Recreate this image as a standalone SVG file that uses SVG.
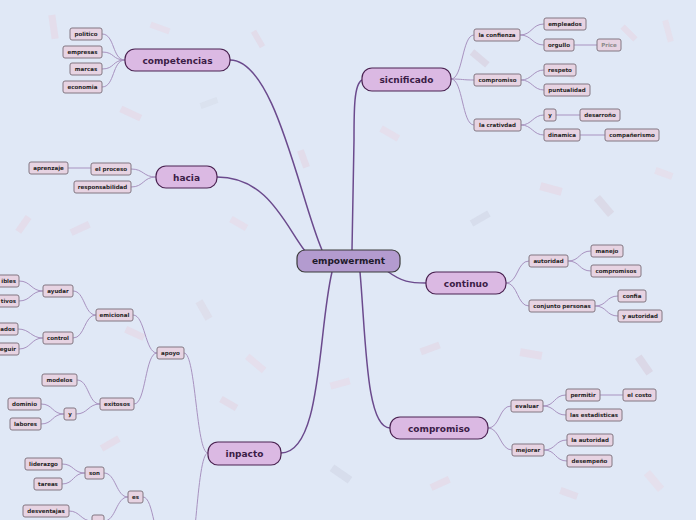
<svg xmlns="http://www.w3.org/2000/svg" width="696" height="520" viewBox="0 0 696 520">
<defs>
<style>
.m{fill:#dbb9e3;stroke:#4b2352;stroke-width:1.2}
.c{fill:#b39bcf;stroke:#3a3a3a;stroke-width:1.2}
.s{fill:#e7d3e2;stroke:#827782;stroke-width:1}
.tm{font-family:"DejaVu Sans",sans-serif;font-weight:bold;font-size:9px;fill:#3b1d47;text-anchor:middle}
.tc{font-family:"DejaVu Sans",sans-serif;font-weight:bold;font-size:9px;fill:#1e1a2a;text-anchor:middle}
.ts{font-family:"DejaVu Sans",sans-serif;font-weight:bold;font-size:5.5px;fill:#1f1f1f;text-anchor:middle}
.te{text-anchor:end}
.lm{fill:none;stroke:#6b4a8d;stroke-width:1.5}
.ls{fill:none;stroke:#a892c0;stroke-width:1}
.cf rect{opacity:0.22}
</style>
</defs>
<rect width="696" height="520" fill="#e0e8f6"/>
<g class="cf">
<rect x="50" y="15" width="7" height="24" fill="#f2b8c6" transform="rotate(-8 53 27)"/>
<rect x="150" y="25" width="20" height="6" fill="#f4c0cc" transform="rotate(20 160 28)"/>
<rect x="255" y="30" width="6" height="18" fill="#e9b0c0" transform="rotate(-30 258 39)"/>
<rect x="470" y="55" width="20" height="7" fill="#c9a0b0" transform="rotate(40 480 58)"/>
<rect x="620" y="30" width="18" height="6" fill="#f2b8c6" transform="rotate(45 629 33)"/>
<rect x="665" y="20" width="6" height="22" fill="#f4c6cf" transform="rotate(-15 668 31)"/>
<rect x="120" y="110" width="22" height="7" fill="#f2b8c6" transform="rotate(25 131 113)"/>
<rect x="200" y="100" width="18" height="6" fill="#c8ccd8" transform="rotate(-20 209 103)"/>
<rect x="560" y="70" width="16" height="6" fill="#e8b4c4" transform="rotate(30 568 73)"/>
<rect x="20" y="215" width="7" height="18" fill="#f2b8c6" transform="rotate(35 23 224)"/>
<rect x="70" y="225" width="20" height="7" fill="#e7b8c8" transform="rotate(-25 80 228)"/>
<rect x="230" y="220" width="18" height="7" fill="#f4c0cc" transform="rotate(30 239 223)"/>
<rect x="470" y="215" width="20" height="7" fill="#b8b8c8" transform="rotate(-30 480 218)"/>
<rect x="540" y="185" width="22" height="8" fill="#f2b8c6" transform="rotate(15 551 189)"/>
<rect x="600" y="195" width="8" height="22" fill="#c8a8b8" transform="rotate(-40 604 206)"/>
<rect x="655" y="170" width="18" height="7" fill="#f4c6cf" transform="rotate(20 664 173)"/>
<rect x="125" y="330" width="20" height="7" fill="#f2b8c6" transform="rotate(25 135 333)"/>
<rect x="200" y="300" width="8" height="20" fill="#d6c0c8" transform="rotate(-30 204 310)"/>
<rect x="245" y="360" width="22" height="7" fill="#f4c0cc" transform="rotate(40 256 363)"/>
<rect x="420" y="345" width="20" height="7" fill="#e8b4c4" transform="rotate(-20 430 348)"/>
<rect x="520" y="350" width="22" height="8" fill="#f2b8c6" transform="rotate(10 531 354)"/>
<rect x="640" y="355" width="8" height="20" fill="#c8a0b0" transform="rotate(-35 644 365)"/>
<rect x="220" y="400" width="18" height="7" fill="#e9b0c0" transform="rotate(30 229 403)"/>
<rect x="330" y="380" width="20" height="7" fill="#f4c0cc" transform="rotate(-15 340 383)"/>
<rect x="330" y="470" width="22" height="8" fill="#b8b8c8" transform="rotate(35 341 474)"/>
<rect x="430" y="480" width="20" height="7" fill="#f2b8c6" transform="rotate(-25 440 483)"/>
<rect x="560" y="490" width="18" height="7" fill="#e8b4c4" transform="rotate(20 569 493)"/>
<rect x="650" y="470" width="8" height="22" fill="#f4c6cf" transform="rotate(-40 654 481)"/>
<rect x="100" y="440" width="20" height="7" fill="#f2b8c6" transform="rotate(-30 110 443)"/>
<rect x="380" y="130" width="20" height="7" fill="#f4c0cc" transform="rotate(30 390 133)"/>
<rect x="300" y="150" width="7" height="18" fill="#e9b0c0" transform="rotate(-20 303 159)"/>
<rect x="420" y="420" width="7" height="18" fill="#c8a0b0" transform="rotate(25 423 429)"/>
</g>
<g id="connectors">
<path class="lm" d="M230,60 C275,60 300,200 322,250"/>
<path class="lm" d="M217,177 C268,177 285,225 305,251"/>
<path class="lm" d="M362,80 C354,84 354,110 354,140 L352,250"/>
<path class="lm" d="M387,271 C402,282 410,283 426,283"/>
<path class="lm" d="M360,272 C366,340 366,428 390,428"/>
<path class="lm" d="M332,272 C318,330 322,453 281,453"/>
<path class="ls" d="M125,60 C112,60 115,34 102,34"/>
<path class="ls" d="M125,60 C112,60 115,52 102,52"/>
<path class="ls" d="M125,60 C112,60 115,69 102,69"/>
<path class="ls" d="M125,60 C112,60 115,87 102,87"/>
<path class="ls" d="M156,177 C143,177 144,169 131,169"/>
<path class="ls" d="M156,177 C143,177 144,187 131,187"/>
<path class="ls" d="M91,168 L68,168"/>
<path class="ls" d="M451,79 C463,79 462,35 474,35"/>
<path class="ls" d="M451,79 C463,79 462,80 474,80"/>
<path class="ls" d="M451,79 C463,79 462,125 474,125"/>
<path class="ls" d="M520,35 C532,35 532,24 544,24"/>
<path class="ls" d="M520,35 C532,35 532,45 544,45"/>
<path class="ls" d="M574,45 L597,45"/>
<path class="ls" d="M521,80 C532,80 533,70 544,70"/>
<path class="ls" d="M521,80 C532,80 533,90 544,90"/>
<path class="ls" d="M521,125 C532,125 533,115 544,115"/>
<path class="ls" d="M521,125 C532,125 533,135 544,135"/>
<path class="ls" d="M556,115 L580,115"/>
<path class="ls" d="M580,135 L605,135"/>
<path class="ls" d="M506,283 C518,283 517,261 529,261"/>
<path class="ls" d="M506,283 C518,283 517,306 529,306"/>
<path class="ls" d="M568,261 C580,261 579,251 591,251"/>
<path class="ls" d="M568,261 C580,261 579,271 591,271"/>
<path class="ls" d="M595,306 C607,306 606,296 618,296"/>
<path class="ls" d="M595,306 C607,306 606,316 618,316"/>
<path class="ls" d="M488,428 C500,428 499,406 511,406"/>
<path class="ls" d="M488,428 C500,428 500,450 512,450"/>
<path class="ls" d="M543,406 C555,406 554,395 566,395"/>
<path class="ls" d="M543,406 C555,406 554,415 566,415"/>
<path class="ls" d="M600,395 L623,395"/>
<path class="ls" d="M544,450 C556,450 555,440 567,440"/>
<path class="ls" d="M544,450 C556,450 555,461 567,461"/>
<path class="ls" d="M208,453 C196,453 196,353 184,353"/>
<path class="ls" d="M208,453 C196,453 196,580 184,580"/>
<path class="ls" d="M157,353 C145,353 145,315 133,315"/>
<path class="ls" d="M157,353 C145,353 146,404 134,404"/>
<path class="ls" d="M96,315 C84,315 85,291 73,291"/>
<path class="ls" d="M96,315 C84,315 85,338 73,338"/>
<path class="ls" d="M43,291 C31,291 31,281 19,281"/>
<path class="ls" d="M43,291 C31,291 31,301 19,301"/>
<path class="ls" d="M43,338 C31,338 30,329 18,329"/>
<path class="ls" d="M43,338 C31,338 31,349 19,349"/>
<path class="ls" d="M100,404 C88,404 89,380 77,380"/>
<path class="ls" d="M100,404 C88,404 88,414 76,414"/>
<path class="ls" d="M64,414 C52,414 53,404 41,404"/>
<path class="ls" d="M64,414 C52,414 53,424 41,424"/>
<path class="ls" d="M128,497 C116,497 116,473 104,473"/>
<path class="ls" d="M128,497 C116,497 116,521 104,521"/>
<path class="ls" d="M143,497 C154,497 154,545 165,545"/>
<path class="ls" d="M85,473 C73,473 74,464 62,464"/>
<path class="ls" d="M85,473 C73,473 74,484 62,484"/>
<path class="ls" d="M69,511 C80,511 81,521 92,521"/>
</g>
<g id="n-empowerment"><rect class="c" x="297" y="250" width="103" height="22" rx="8"/><text class="tc" x="348.5" y="264">empowerment</text></g>
<g id="n-competencias"><rect class="m" x="125" y="49" width="105" height="22" rx="10"/><text class="tm" x="177.5" y="63.5">competencias</text></g>
<g id="n-hacia"><rect class="m" x="156" y="166" width="61" height="22" rx="10"/><text class="tm" x="186.5" y="180.5">hacia</text></g>
<g id="n-sicnificado"><rect class="m" x="362" y="68" width="89" height="23" rx="10"/><text class="tm" x="406.5" y="83">sicnificado</text></g>
<g id="n-continuo"><rect class="m" x="426" y="272" width="80" height="22" rx="10"/><text class="tm" x="466" y="286.5">continuo</text></g>
<g id="n-compromiso"><rect class="m" x="390" y="417" width="98" height="22" rx="10"/><text class="tm" x="439" y="431.5">compromiso</text></g>
<g id="n-inpacto"><rect class="m" x="208" y="442" width="73" height="23" rx="10"/><text class="tm" x="244.5" y="457">inpacto</text></g>
<g id="n-politico"><rect class="s" x="70" y="28" width="32" height="12" rx="2"/><text class="ts" x="86" y="36">politico</text></g>
<g id="n-empresas"><rect class="s" x="63" y="46" width="39" height="12" rx="2"/><text class="ts" x="82.5" y="54">empresas</text></g>
<g id="n-marcas"><rect class="s" x="70" y="63" width="32" height="12" rx="2"/><text class="ts" x="86" y="71">marcas</text></g>
<g id="n-economia"><rect class="s" x="63" y="81" width="39" height="12" rx="2"/><text class="ts" x="82.5" y="89">economia</text></g>
<g id="n-el-proceso"><rect class="s" x="91" y="163" width="40" height="12" rx="2"/><text class="ts" x="111" y="171">el proceso</text></g>
<g id="n-aprenzaje"><rect class="s" x="29" y="162" width="39" height="12" rx="2"/><text class="ts" x="48.5" y="170">aprenzaje</text></g>
<g id="n-responsabilidad"><rect class="s" x="74" y="181" width="57" height="12" rx="2"/><text class="ts" x="102.5" y="189">responsabilidad</text></g>
<g id="n-la-confienza"><rect class="s" x="474" y="29" width="46" height="12" rx="2"/><text class="ts" x="497" y="37">la confienza</text></g>
<g id="n-empleados"><rect class="s" x="544" y="18" width="42" height="12" rx="2"/><text class="ts" x="565" y="26">empleados</text></g>
<g id="n-orgullo"><rect class="s" x="544" y="39" width="30" height="12" rx="2"/><text class="ts" x="559" y="47">orgullo</text></g>
<g id="n-price"><rect class="s" x="597" y="39" width="24" height="12" rx="2"/><text class="ts" x="609" y="47" style="fill:#8a8a8a">Price</text></g>
<g id="n-compromiso-sub"><rect class="s" x="474" y="74" width="47" height="12" rx="2"/><text class="ts" x="497.5" y="82">compromiso</text></g>
<g id="n-respeto"><rect class="s" x="544" y="64" width="32" height="12" rx="2"/><text class="ts" x="560" y="72">respeto</text></g>
<g id="n-puntualidad"><rect class="s" x="544" y="84" width="46" height="12" rx="2"/><text class="ts" x="567" y="92">puntualidad</text></g>
<g id="n-la-crativdad"><rect class="s" x="474" y="119" width="47" height="12" rx="2"/><text class="ts" x="497.5" y="127">la crativdad</text></g>
<g id="n-y1"><rect class="s" x="544" y="109" width="12" height="12" rx="2"/><text class="ts" x="550" y="117">y</text></g>
<g id="n-desarrono"><rect class="s" x="580" y="109" width="40" height="12" rx="2"/><text class="ts" x="600" y="117">desarroño</text></g>
<g id="n-dinamica"><rect class="s" x="544" y="129" width="36" height="12" rx="2"/><text class="ts" x="562" y="137">dinamica</text></g>
<g id="n-companerismo"><rect class="s" x="605" y="129" width="54" height="12" rx="2"/><text class="ts" x="632" y="137">compañerismo</text></g>
<g id="n-autoridad"><rect class="s" x="529" y="255" width="39" height="12" rx="2"/><text class="ts" x="548.5" y="263">autoridad</text></g>
<g id="n-manejo"><rect class="s" x="591" y="245" width="32" height="12" rx="2"/><text class="ts" x="607" y="253">manejo</text></g>
<g id="n-compromisos"><rect class="s" x="591" y="265" width="50" height="12" rx="2"/><text class="ts" x="616" y="273">compromisos</text></g>
<g id="n-conjunto-personas"><rect class="s" x="529" y="300" width="66" height="12" rx="2"/><text class="ts" x="562" y="308">conjunto personas</text></g>
<g id="n-confia"><rect class="s" x="618" y="290" width="28" height="12" rx="2"/><text class="ts" x="632" y="298">confia</text></g>
<g id="n-y-autoridad"><rect class="s" x="618" y="310" width="44" height="12" rx="2"/><text class="ts" x="640" y="318">y autoridad</text></g>
<g id="n-evaluar"><rect class="s" x="511" y="400" width="32" height="12" rx="2"/><text class="ts" x="527" y="408">evaluar</text></g>
<g id="n-permitir"><rect class="s" x="566" y="389" width="34" height="12" rx="2"/><text class="ts" x="583" y="397">permitir</text></g>
<g id="n-el-costo"><rect class="s" x="623" y="389" width="33" height="12" rx="2"/><text class="ts" x="639.5" y="397">el costo</text></g>
<g id="n-las-estadisticas"><rect class="s" x="566" y="409" width="56" height="12" rx="2"/><text class="ts" x="594" y="417">las estadisticas</text></g>
<g id="n-mejorar"><rect class="s" x="512" y="444" width="32" height="12" rx="2"/><text class="ts" x="528" y="452">mejorar</text></g>
<g id="n-la-autoridad"><rect class="s" x="567" y="434" width="46" height="12" rx="2"/><text class="ts" x="590" y="442">la autoridad</text></g>
<g id="n-desempeno"><rect class="s" x="567" y="455" width="45" height="12" rx="2"/><text class="ts" x="589.5" y="463">desempeño</text></g>
<g id="n-apoyo"><rect class="s" x="157" y="347" width="27" height="12" rx="2"/><text class="ts" x="170.5" y="355">apoyo</text></g>
<g id="n-emicional"><rect class="s" x="96" y="309" width="37" height="12" rx="2"/><text class="ts" x="114.5" y="317">emicional</text></g>
<g id="n-ayudar"><rect class="s" x="43" y="285" width="30" height="12" rx="2"/><text class="ts" x="58" y="293">ayudar</text></g>
<g id="n-ibles"><rect class="s" x="-25" y="275" width="44" height="12" rx="2"/><text class="ts te" x="16" y="283">ibles</text></g>
<g id="n-tivos"><rect class="s" x="-25" y="295" width="44" height="12" rx="2"/><text class="ts te" x="16" y="303">tivos</text></g>
<g id="n-control"><rect class="s" x="43" y="332" width="30" height="12" rx="2"/><text class="ts" x="58" y="340">control</text></g>
<g id="n-ados"><rect class="s" x="-25" y="323" width="43" height="12" rx="2"/><text class="ts te" x="15" y="331">ados</text></g>
<g id="n-eguir"><rect class="s" x="-25" y="343" width="44" height="12" rx="2"/><text class="ts te" x="16" y="351">eguir</text></g>
<g id="n-exitosos"><rect class="s" x="100" y="398" width="34" height="12" rx="2"/><text class="ts" x="117" y="406">exitosos</text></g>
<g id="n-modelos"><rect class="s" x="42" y="374" width="35" height="12" rx="2"/><text class="ts" x="59.5" y="382">modelos</text></g>
<g id="n-y2"><rect class="s" x="64" y="408" width="12" height="12" rx="2"/><text class="ts" x="70" y="416">y</text></g>
<g id="n-dominio"><rect class="s" x="8" y="398" width="33" height="12" rx="2"/><text class="ts" x="24.5" y="406">dominio</text></g>
<g id="n-labores"><rect class="s" x="10" y="418" width="31" height="12" rx="2"/><text class="ts" x="25.5" y="426">labores</text></g>
<g id="n-es"><rect class="s" x="128" y="491" width="15" height="12" rx="2"/><text class="ts" x="135.5" y="499">es</text></g>
<g id="n-son"><rect class="s" x="85" y="467" width="19" height="12" rx="2"/><text class="ts" x="94.5" y="475">son</text></g>
<g id="n-liderazgo"><rect class="s" x="25" y="458" width="37" height="12" rx="2"/><text class="ts" x="43.5" y="466">liderazgo</text></g>
<g id="n-tareas"><rect class="s" x="34" y="478" width="28" height="12" rx="2"/><text class="ts" x="48" y="486">tareas</text></g>
<g id="n-desventajas"><rect class="s" x="23" y="505" width="46" height="12" rx="2"/><text class="ts" x="46" y="513">desventajas</text></g>
<g id="n-hidden"><rect class="s" x="92" y="515" width="12" height="12" rx="2"/></g>
</svg>
